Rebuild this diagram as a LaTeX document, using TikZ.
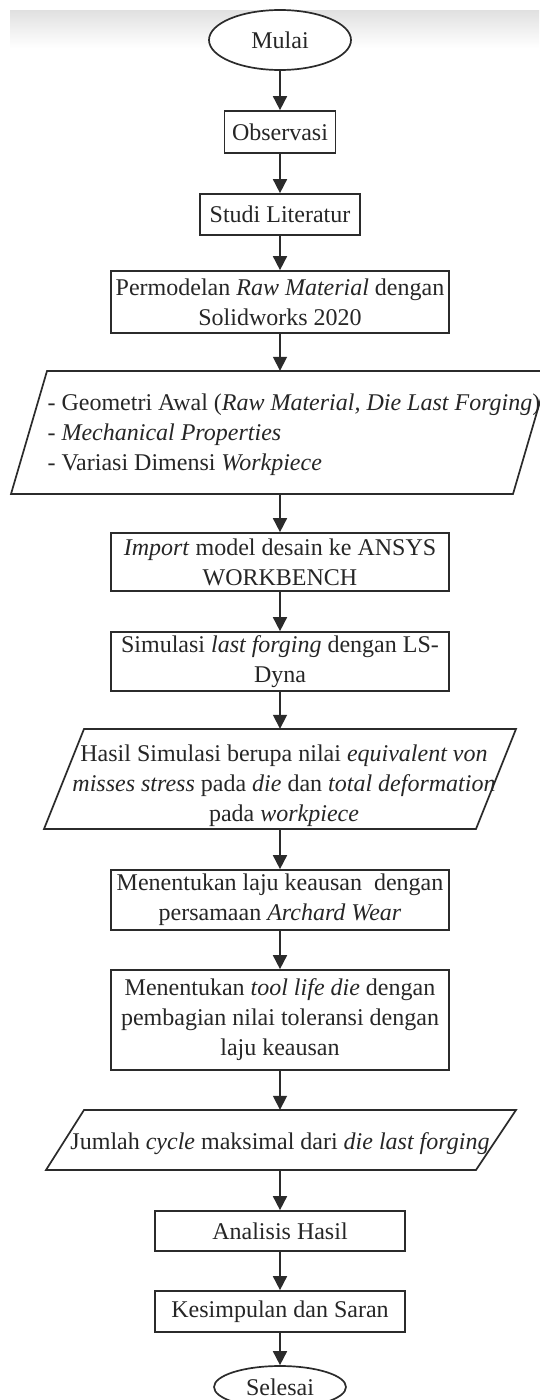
\documentclass[tikz,border=0pt]{standalone}
\usepackage{fontspec}
\setmainfont{Liberation Serif}
\usetikzlibrary{arrows.meta,shapes.geometric}

\definecolor{inkline}{HTML}{2B2B2B}
\definecolor{inktext}{HTML}{262626}

\tikzset{
  every node/.style={font=\fontsize{24}{30}\selectfont, text=inktext},
  process/.style={draw=inkline, line width=1.7pt, fill=white, rectangle,
    inner sep=0pt, align=center},
  terminal/.style={draw=inkline, line width=1.7pt, fill=white, ellipse,
    inner sep=0pt},
  ioshape/.style={draw=inkline, line width=1.7pt, fill=white, line join=miter},
  anchorbox/.style={draw=none, rectangle, inner sep=0pt, minimum width=10pt},
  flow/.style={draw=inkline, line width=1.7pt,
    -{Triangle[length=14pt,width=14pt]}},
}

\begin{document}
\begin{tikzpicture}[x=1pt,y=-1pt]
  \useasboundingbox (0,0) rectangle (539,1400);
  \fill[white] (0,0) rectangle (539,1400);

  % faint grey band along the top edge
  \shade[top color=black!12, bottom color=white] (10,10) rectangle (539,48);

  % start / end
  \node[terminal, minimum width=142pt, minimum height=60pt] (mulai) at (280,40) {Mulai};

  % process steps
  \node[process, minimum width=111pt, minimum height=42pt] (obs) at (280,132) {Observasi};
  \node[process, minimum width=160pt, minimum height=41pt] (studi) at (280,214.5) {Studi Literatur};
  \node[process, minimum width=338pt, minimum height=62pt] (perm) at (280,302)
    {Permodelan \textit{Raw Material} dengan\\Solidworks 2020};

  % input data (parallelogram)
  \draw[ioshape] (11,494) -- (513,494) -- (549,371) -- (47,371) -- cycle;
  \node[anchorbox, minimum height=123pt] (input) at (280,432.5) {};
  \node[anchor=west, align=left] (inputtxt) at (44,435)
    {- Geometri Awal (\textit{Raw Material, Die Last Forging})\\
     - \textit{Mechanical Properties}\\
     - Variasi Dimensi \textit{Workpiece}};

  \node[process, minimum width=338pt, minimum height=58pt] (imp) at (280,562)
    {\textit{Import} model desain ke ANSYS\\WORKBENCH};
  \node[process, minimum width=338pt, minimum height=59pt] (sim) at (280,661.5)
    {Simulasi \textit{last forging} dengan LS-\\Dyna};

  % simulation output (parallelogram)
  \draw[ioshape] (44,829) -- (476,829) -- (516,729) -- (84,729) -- cycle;
  \node[anchorbox, minimum height=100pt] (hasil) at (280,779) {};
  \node[align=center] (hasiltxt) at (284,786)
    {Hasil Simulasi berupa nilai \textit{equivalent von}\\
     \textit{misses stress} pada \textit{die} dan \textit{total deformation}\\
     pada \textit{workpiece}};

  \node[process, minimum width=338pt, minimum height=60pt] (laju) at (280,900)
    {Menentukan laju keausan\ \ dengan\\persamaan \textit{Archard Wear}};
  \node[process, minimum width=338pt, minimum height=100pt] (tool) at (280,1020)
    {Menentukan \textit{tool life die} dengan\\pembagian nilai toleransi dengan\\laju keausan};

  % cycle count output (parallelogram)
  \draw[ioshape] (46,1170) -- (476,1170) -- (516,1110) -- (84,1110) -- cycle;
  \node[anchorbox, minimum height=60pt] (cycle) at (280,1140) {};
  \node (cycletxt) at (280,1144)
    {Jumlah \textit{cycle} maksimal dari \textit{die last forging}};

  \node[process, minimum width=250pt, minimum height=40pt] (anal) at (280,1231) {Analisis Hasil};
  \node[process, minimum width=250pt, minimum height=41pt] (kes) at (280,1311.5) {Kesimpulan dan Saran};
  \node[terminal, minimum width=132pt, minimum height=42pt] (selesai) at (280,1387) {Selesai};

  % connectors
  \draw[flow] (mulai.south) -- (obs.north);
  \draw[flow] (obs.south) -- (studi.north);
  \draw[flow] (studi.south) -- (perm.north);
  \draw[flow] (perm.south) -- (input.north);
  \draw[flow] (input.south) -- (imp.north);
  \draw[flow] (imp.south) -- (sim.north);
  \draw[flow] (sim.south) -- (hasil.north);
  \draw[flow] (hasil.south) -- (laju.north);
  \draw[flow] (laju.south) -- (tool.north);
  \draw[flow] (tool.south) -- (cycle.north);
  \draw[flow] (cycle.south) -- (anal.north);
  \draw[flow] (anal.south) -- (kes.north);
  \draw[flow] (kes.south) -- (selesai.north);
\end{tikzpicture}
\end{document}
